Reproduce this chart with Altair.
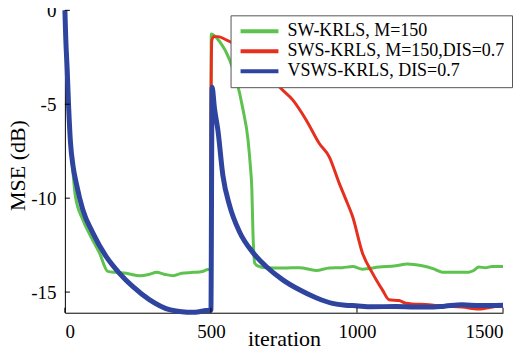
import altair as alt
import pandas as pd

# ---- data ----
series_names = ["SW-KRLS, M=150", "SWS-KRLS, M=150,DIS=0.7", "VSWS-KRLS, DIS=0.7"]
series_colors = ["#5EC24F", "#E6301F", "#2E449E"]

sw_x = [0, 4, 10, 18, 27, 36, 60, 84, 118, 147, 175, 210, 257, 290, 314, 340, 371, 400, 439, 470, 490, 500,
        501, 530, 564, 587, 610, 627, 635, 640, 644, 650, 660, 689, 750, 803, 860, 905, 950, 985, 1019,
        1076, 1133, 1172, 1223, 1260, 1292, 1340, 1383, 1400, 1417, 1440, 1462, 1500]
sw_y = [0, -2.0, -4.5, -6.9, -8.5, -9.9, -11.1, -11.9, -12.9, -13.9, -13.95, -14.0, -14.13, -14.05, -13.95, -14.05,
        -14.13, -14.0, -13.95, -13.9, -13.8, -13.8,
        -1.26, -1.67, -2.64, -3.7, -5.3, -6.9, -8.3, -9.5, -11.9, -13.46, -13.6, -13.7, -13.72, -13.7, -13.85,
        -13.72, -13.7, -13.64, -13.78, -13.67, -13.6, -13.5, -13.6, -13.75, -13.94, -13.95, -13.94, -13.85,
        -13.67, -13.7, -13.64, -13.64]

sws_x = [0, 3, 8, 13, 19, 28, 39, 61, 96, 141, 187, 232, 289, 358, 400, 437, 460, 483, 499.5,
         500.5, 503, 510, 524, 553, 598, 640, 689, 735, 780, 826, 871, 905, 939, 960, 985, 1019, 1053, 1076,
         1087, 1110, 1144, 1167, 1246, 1300, 1360, 1417, 1474, 1500]
sws_y = [0, -1.5, -3.2, -5.2, -7.0, -8.3, -9.2, -10.6, -11.86, -13.1, -14.0, -14.7, -15.4, -15.94, -16.05, -16.08,
         -16.05, -15.98, -15.98,
         -4.2, -1.6, -1.4, -1.4, -1.58, -1.95, -2.5, -3.2, -4.08, -4.77, -5.84, -7.09, -7.8, -9.2, -10.0, -10.98,
         -12.93, -13.99, -14.61, -14.88, -15.41, -15.45, -15.59, -15.68, -15.75, -15.8, -15.9, -15.77, -15.75]

vsws_x = [0, 3, 8, 13, 19, 28, 39, 61, 96, 141, 187, 232, 289, 358, 400, 437, 460, 483, 499, 500,
          504, 512, 524, 541, 564, 598, 644, 689, 746, 803, 860, 916, 960, 996, 1050, 1133, 1200, 1246, 1300,
          1360, 1420, 1500]
vsws_y = [0, -1.5, -3.2, -5.2, -7.0, -8.3, -9.2, -10.6, -11.86, -13.1, -14.0, -14.7, -15.4, -15.94, -16.05, -16.08,
          -16.05, -15.98, -15.98, -15.95,
          -4.1, -5.2, -6.4, -8.8, -10.4, -11.8, -12.9, -13.64, -14.35, -14.88, -15.3, -15.6, -15.7, -15.73,
          -15.78, -15.77, -15.8, -15.8, -15.75, -15.68, -15.72, -15.7]

x_ticks = [0, 500, 1000, 1500]
y_ticks = [0, -5, -10, -15]

# ---- build table ----
rows = []
for name, xs, ys, w, order in [(series_names[0], sw_x, sw_y, 3, 0),
                               (series_names[1], sws_x, sws_y, 3, 1),
                               (series_names[2], vsws_x, vsws_y, 5, 2)]:
    for i, (a, b) in enumerate(zip(xs, ys)):
        rows.append({"series": name, "iteration": a, "mse": b, "w": w, "ord": order, "idx": i})
df = pd.DataFrame(rows)

W, H = 439, 303
FONT = "Liberation Serif, Times New Roman, serif"

xscale = alt.Scale(domain=[0, 1500], nice=False, zero=False)
yscale = alt.Scale(domain=[-16.1, 0], nice=False, zero=False)

x_axis = alt.Axis(title="iteration", values=x_ticks, ticks=False, grid=False,
                  labelExpr="format(datum.value, 'd')",
                  labelPadding=10, titleY=33, titleBaseline="alphabetic",
                  labelFont=FONT, titleFont=FONT, domainColor="black",
                  labelFontSize=19, titleFontSize=22, titleFontWeight="normal")
y_axis = alt.Axis(title="MSE (dB)", values=y_ticks, ticks=False, grid=False,
                  labelExpr="datum.value < 0 ? '-' + format(-datum.value, 'd') : format(datum.value, 'd')",
                  labelPadding=9, titleX=-40, titleY=155, titleAngle=-90,
                  titleBaseline="alphabetic", titleAlign="center",
                  labelFont=FONT, titleFont=FONT, domainColor="black",
                  labelFontSize=19, titleFontSize=22, titleFontWeight="normal")

lines = alt.Chart(df).mark_line(strokeJoin="round", strokeCap="butt", interpolate="monotone").encode(
    x=alt.X("iteration:Q", scale=xscale, axis=x_axis, title="iteration"),
    y=alt.Y("mse:Q", scale=yscale, axis=y_axis, title="MSE (dB)"),
    color=alt.Color("series:N",
                    scale=alt.Scale(domain=series_names, range=series_colors),
                    legend=alt.Legend(title=None, orient="none", legendX=166, legendY=5,
                                      symbolType="M-3,0H3", symbolSize=160, symbolStrokeWidth=4,
                                      symbolFillColor="transparent",
                                      symbolOffset=13, labelOffset=19,
                                      labelFontSize=18, labelFont=FONT,
                                      padding=7, rowPadding=2,
                                      strokeColor="#555555", fillColor="white",
                                      labelLimit=400)),
    strokeWidth=alt.StrokeWidth("w:Q", scale=None, legend=None),
    detail="series:N",
    order=alt.Order("idx:Q"),
)

xt = pd.DataFrame({"t": x_ticks})
yt = pd.DataFrame({"t": y_ticks})
xticks = alt.Chart(xt).mark_rule(color="black", strokeWidth=1).encode(
    x=alt.X("t:Q", scale=xscale, axis=x_axis, title="iteration"),
    y=alt.value(H), y2=alt.value(H - 5))
yticks = alt.Chart(yt).mark_rule(color="black", strokeWidth=1).encode(
    y=alt.Y("t:Q", scale=yscale, axis=y_axis, title="MSE (dB)"),
    x=alt.value(0), x2=alt.value(5))

layers = [lines.transform_filter(alt.datum.ord == k) for k in range(3)]

chart = alt.layer(*layers, xticks, yticks).properties(
    width=W, height=H,
    autosize=alt.AutoSizeParams(type="none"),
    padding={"left": 57, "top": 2, "right": 12, "bottom": 33},
).configure(
    background="white", font=FONT,
    style={"guide-label": {"font": FONT}, "guide-title": {"font": FONT}},
).configure_view(stroke=None).configure_axis(
    domainColor="black", domainWidth=1, labelColor="black", titleColor="black",
    labelFont=FONT, titleFont=FONT, labelOverlap=False,
)

chart.save("out.html", embed_options={"renderer": "svg", "actions": False})
